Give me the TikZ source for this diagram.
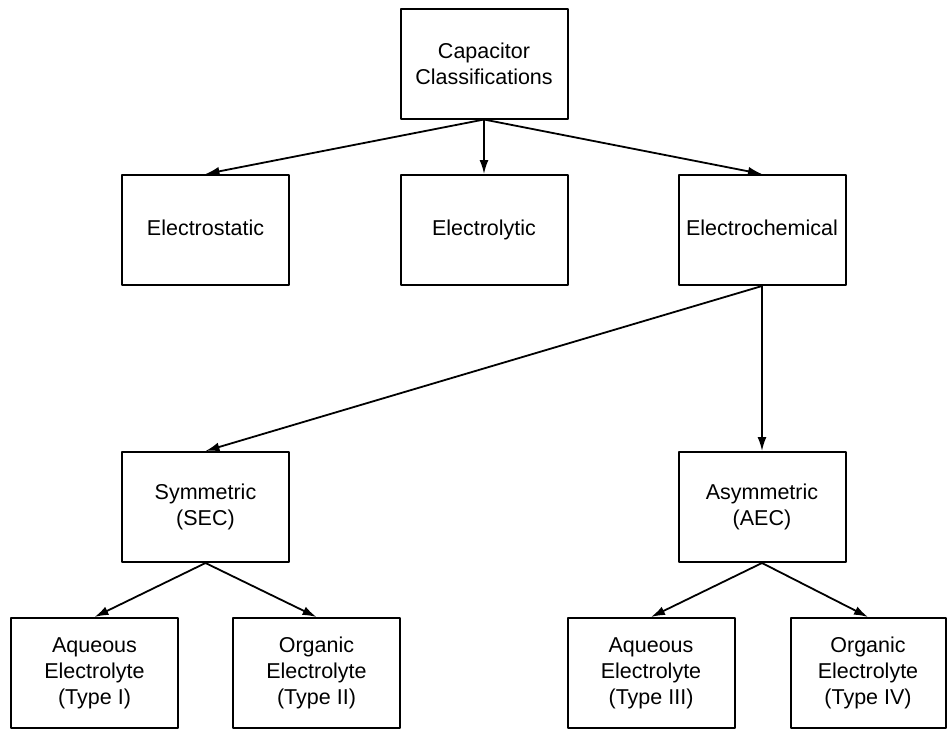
\documentclass[tikz,border=0pt]{standalone}
\usepackage{fontspec}
\setmainfont{Liberation Sans}
\usetikzlibrary{arrows.meta}
\tikzset{
  box/.style={draw,line width=1pt,minimum width=83.5pt,minimum height=55pt,
    align=center,inner sep=2pt,font=\fontsize{10.75}{13}\selectfont},
  onebox/.style={box,text height=8pt,text depth=2.3pt},
  link/.style={line width=0.9pt,-{Latex[length=7pt,width=4.5pt]}}
}
\begin{document}
\begin{tikzpicture}[x=0.5pt,y=-0.5pt,line join=round]
	\useasboundingbox (0,0) rectangle (948,730);
	% levels
	\node[box] (root) at (484,63.5) {Capacitor\\Classifications};
	\node[onebox] (stat) at (205.5,230) {Electrostatic};
	\node[onebox] (lyt)  at (484,230) {Electrolytic};
	\node[onebox] (chem) at (762,230) {Electrochemical};
	\node[box] (sym)  at (205.5,507) {Symmetric\\(SEC)};
	\node[box] (asym) at (762,507) {Asymmetric\\(AEC)};
	\node[box] (t1) at (94.5,673) {Aqueous\\Electrolyte\\(Type I)};
	\node[box] (t2) at (316.5,673) {Organic\\Electrolyte\\(Type II)};
	\node[box] (t3) at (651,673) {Aqueous\\Electrolyte\\(Type III)};
	\node[box,minimum width=77.5pt] (t4) at (868,673) {Organic\\Electrolyte\\(Type IV)};
	% connectors
	\foreach \a/\b in {root/stat,root/lyt,root/chem,chem/sym,chem/asym,sym/t1,sym/t2,asym/t3,asym/t4}
	\draw[link] (\a.south) -- (\b.north);
\end{tikzpicture}
\end{document}
